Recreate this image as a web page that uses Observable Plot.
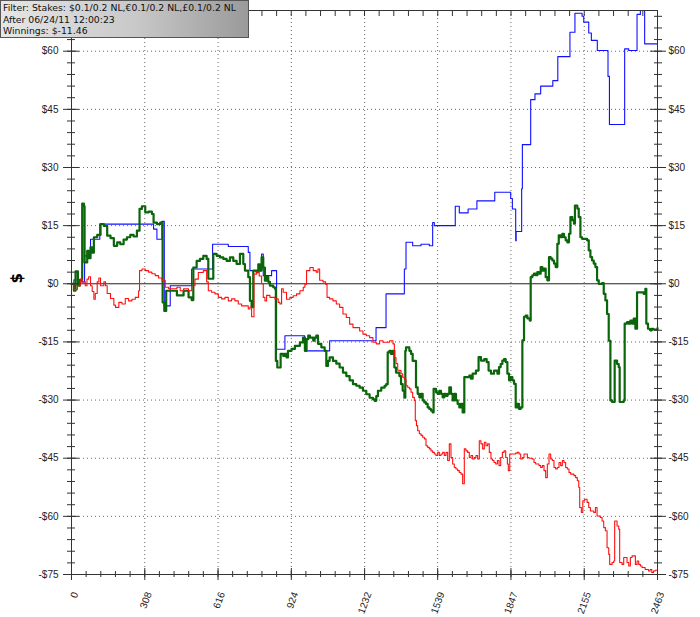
<!DOCTYPE html>
<html><head><meta charset="utf-8">
<script src="https://cdn.jsdelivr.net/npm/d3@7"></script>
<script src="https://cdn.jsdelivr.net/npm/@observablehq/plot@0.6"></script>
<style>
html,body{margin:0;padding:0;background:#fff;}
#wrap{position:relative;width:700px;height:617px;overflow:hidden;}
#wrap svg{position:absolute;left:0;top:0;}
#legend{position:absolute;left:0;top:0;width:245px;height:35px;border:1px solid #555;
  background:linear-gradient(to right,#e6e6e6 0%,#c8c8c8 55%,#9a9a9a 100%);
  font:9.3px "DejaVu Sans",Verdana,sans-serif;line-height:11.5px;color:#111;padding:1px 0 0 2px;white-space:nowrap;z-index:2;}
</style></head><body>
<div id="wrap"></div>
<script>
// Tick labels
const xTicks = [0, 308, 616, 924, 1232, 1539, 1847, 2155, 2463];
const yTicks = [-75, -60, -45, -30, -15, 0, 15, 30, 45, 60];
const legendLines = ["Filter: Stakes: $0.1/0.2 NL,\u20AC0.1/0.2 NL,\u00A30.1/0.2 NL", "After 06/24/11 12:00:23", "Winnings: $-11.46"];
const yLabel = "$";

// Series: [hand, cumulative $]
const greenData = [
[0,0],[10,-1.8],[17,3.2],[27,-0.5],[35,1],[45,20.7],[52,20],[55,5.5],[66,8.5],[73,6.6],[80,9.4],[87,8],[94,12],[108,12.6],[122,15.4],[136,14.9],[150,12.4],[164,11.8],[178,9.8],[192,10.7],[205,10.2],[219,11.4],[233,12],[247,12.6],[261,12.2],[275,13.7],[286,19.3],[296,20],[310,18.4],[324,18.6],[338,18],[345,15.8],[359,15.4],[373,15.8],[383,-4.8],[390,-7],[398,-1.8],[415,-1.8],[443,-3],[471,-1.8],[492,-3.5],[505,-4.2],[512,4.2],[526,5.9],[540,6.4],[554,7.2],[568,6.4],[575,1.3],[596,7.7],[610,7.2],[624,6.8],[638,6.4],[652,5.9],[666,6.8],[680,5.9],[694,5.1],[708,7.7],[722,5.1],[729,3.4],[743,1.7],[750,-4.4],[757,-6],[764,3.4],[778,3],[785,5],[792,3.4],[799,6.8],[806,4.2],[813,0.8],[820,1.7],[827,0.5],[834,-0.5],[848,-0.9],[855,-1.3],[859,-19.9],[865,-21.6],[879,-18.1],[890,-18.6],[897,-18.1],[904,-19],[910,-17.3],[925,-16.8],[939,-16],[960,-15.1],[973,-13.9],[981,-17.3],[988,-14.3],[995,-13.4],[1002,-13.9],[1016,-14.7],[1022,-13.9],[1029,-13.4],[1036,-15.5],[1050,-16.4],[1064,-17.3],[1071,-21.2],[1078,-19.9],[1085,-19],[1099,-19.9],[1113,-20.6],[1127,-21.6],[1141,-22.9],[1155,-23.8],[1169,-24.9],[1183,-25.9],[1197,-26.3],[1211,-26.8],[1225,-27.6],[1239,-28.5],[1253,-29.4],[1267,-29.8],[1274,-30.2],[1281,-29],[1288,-27.6],[1302,-26.8],[1316,-26.3],[1323,-25.9],[1329,-17.7],[1336,-17.3],[1343,-18.1],[1350,-17.3],[1357,-21.6],[1364,-22.9],[1378,-23.8],[1385,-25.9],[1392,-27.6],[1399,-29.4],[1403,-17.3],[1406,-16.4],[1420,-17.3],[1427,-18.1],[1434,-19.9],[1448,-26.7],[1455,-28.4],[1462,-29.3],[1469,-28.4],[1476,-30.1],[1483,-30.6],[1490,-31],[1497,-31.9],[1504,-32.3],[1511,-32.7],[1518,-33.2],[1522,-27.1],[1532,-28],[1539,-28.4],[1546,-27.6],[1553,-28.4],[1560,-29.3],[1567,-28.4],[1574,-28.9],[1581,-28.4],[1588,-26.7],[1595,-28.4],[1602,-30.1],[1609,-28.4],[1616,-30.1],[1623,-31],[1630,-31.9],[1637,-31],[1644,-33.2],[1651,-24.1],[1665,-24.1],[1672,-23.7],[1679,-24.5],[1686,-23.2],[1700,-22.4],[1711,-18.9],[1721,-19.8],[1735,-19.4],[1745,-20.2],[1753,-22.4],[1763,-23.2],[1776,-22.4],[1790,-23.2],[1797,-21.5],[1804,-20.7],[1811,-19.8],[1818,-19.4],[1825,-20.2],[1832,-23.2],[1839,-24.9],[1846,-24.1],[1853,-24.9],[1860,-25.8],[1867,-31.9],[1874,-31],[1881,-32.3],[1888,-31.9],[1895,-14.6],[1902,-8.5],[1909,-8.2],[1916,-8.9],[1926,-9.5],[1930,1.7],[1937,2.2],[1944,2.6],[1951,2.2],[1958,3],[1965,2.6],[1972,4.3],[1979,3.4],[1986,3.9],[1993,1.7],[2000,0.9],[2007,6.9],[2014,6.5],[2021,6],[2028,5.2],[2035,4.3],[2042,10.3],[2048,12.5],[2056,12],[2063,12.9],[2070,12],[2077,11.2],[2084,10.7],[2091,12.9],[2097,17.2],[2105,16.4],[2112,15.5],[2116,20.2],[2126,19.4],[2132,17.2],[2139,12],[2146,11.6],[2160,11.6],[2167,11.2],[2174,8.6],[2181,6.9],[2188,6],[2195,5.2],[2202,4.3],[2209,0.9],[2216,0],[2230,0.2],[2237,-2.6],[2244,-4.3],[2251,-7.8],[2258,-14.7],[2265,-30.1],[2272,-30.5],[2279,-30.5],[2283,-19.8],[2293,-20.7],[2300,-21.5],[2304,-30.5],[2314,-30.5],[2321,-30.1],[2325,-10.3],[2335,-9.9],[2342,-10.3],[2349,-9.5],[2356,-10.3],[2363,-9],[2370,-11.6],[2377,-2.2],[2391,-2.2],[2405,-2.6],[2412,-1.3],[2416,-10.3],[2423,-11.6],[2432,-12],[2439,-11.6],[2446,-11.8],[2463,-11.46]
];

const blueData = [
[0,0],[10,1],[17,3],[27,0],[35,0.5],[55,7.2],[80,11.5],[119,15.4],[345,14.1],[359,11.5],[380,16.1],[390,-5.7],[415,-0.5],[505,3.8],[593,10.2],[659,9.6],[743,8.1],[750,3.4],[799,7.7],[806,2.1],[841,3.4],[862,-16.9],[897,-13.4],[980,-17.3],[1085,-14.7],[1280,-11.3],[1322,-2.6],[1399,3.8],[1406,10.7],[1434,9.8],[1469,10.2],[1504,9.8],[1518,15.8],[1525,15],[1613,20],[1630,18.3],[1667,19.3],[1704,21.4],[1779,23.6],[1846,22],[1853,19.3],[1867,11.1],[1869,13.5],[1892,24.5],[1895,35.9],[1930,47.5],[1948,49],[1972,51],[2023,52.4],[2044,58.6],[2095,64.9],[2116,69.8],[2146,69],[2153,67.5],[2174,64.7],[2185,62.8],[2210,60.2],[2255,53.5],[2261,41.1],[2325,60.6],[2342,60.2],[2377,69.5],[2391,70.5],[2409,61.9],[2463,61.9]
];

const redData = [
[0,0],[10,-1.5],[25,-0.5],[37,1.2],[45,0.5],[58,-0.5],[65,1.2],[72,1.8],[80,-0.5],[87,-2],[94,-4],[100,-2.5],[108,0.5],[115,1.5],[122,-0.5],[136,0.5],[143,-0.5],[150,-2.5],[164,-3.8],[178,-5.5],[185,-6.1],[199,-4.8],[212,-5.2],[226,-3.8],[240,-4.4],[254,-4],[268,-3.5],[282,-1.8],[286,3.4],[296,3.8],[310,3.4],[324,3],[338,2.6],[352,2.1],[366,1.5],[380,0.9],[394,-0.9],[408,-1.3],[429,-1.3],[443,-0.9],[457,-1.8],[471,-1.3],[492,-1.8],[505,-0.5],[519,1.2],[533,2.9],[547,2.9],[554,3.4],[568,0.5],[575,-1.8],[589,-2.2],[603,-2.6],[617,-3.5],[631,-3.9],[645,-3.5],[659,-4.4],[673,-3.9],[687,-4.4],[701,-5.2],[715,-5.7],[729,-5.7],[743,-6.5],[750,-6],[757,-8.5],[767,2.5],[778,3],[789,2],[799,0],[806,-3.5],[813,-4.4],[820,-3],[834,-3.5],[855,-3.9],[869,-4.8],[876,-5.2],[883,-1.3],[890,-2.2],[904,-4],[918,-3.5],[932,-3.1],[946,-2.6],[960,-1.8],[974,-0.9],[981,-0.1],[988,3.4],[1002,4.2],[1016,3.4],[1029,3],[1036,3.8],[1043,0.9],[1057,0.5],[1068,-0.1],[1074,-3.5],[1085,-3.9],[1099,-4.4],[1113,-5.2],[1127,-6.1],[1141,-7.8],[1155,-8.7],[1169,-10.4],[1183,-11.3],[1197,-11.3],[1211,-12.2],[1225,-13],[1239,-13.4],[1253,-13.9],[1267,-15.1],[1281,-15.5],[1295,-14.7],[1309,-15.1],[1323,-15.1],[1337,-14.7],[1351,-15.5],[1357,-19],[1364,-20.6],[1371,-22.3],[1378,-22.4],[1385,-23.2],[1392,-24.1],[1399,-24.6],[1406,-26.3],[1413,-26.7],[1420,-27.1],[1427,-28],[1434,-29.3],[1441,-30.1],[1445,-35.3],[1450,-36.6],[1455,-37.9],[1462,-38.7],[1469,-39.1],[1476,-39.6],[1483,-40],[1490,-41.8],[1497,-42.2],[1504,-42.6],[1511,-43.1],[1518,-43.5],[1525,-43.9],[1532,-44.3],[1539,-43.5],[1546,-44.3],[1553,-43.9],[1560,-43.5],[1567,-44.3],[1574,-43.5],[1581,-45.6],[1588,-41.3],[1595,-44.8],[1602,-46.5],[1609,-47.4],[1616,-47.8],[1623,-48.2],[1630,-48.7],[1637,-49.1],[1644,-51.6],[1651,-42.6],[1658,-43.1],[1665,-43.5],[1672,-44.8],[1679,-44.3],[1686,-45.2],[1693,-44.8],[1700,-44.3],[1707,-45.2],[1714,-40.5],[1721,-41.3],[1728,-42.6],[1735,-40.9],[1742,-41.8],[1749,-41.3],[1756,-43.5],[1763,-45.2],[1770,-45.6],[1776,-46.1],[1783,-46.5],[1790,-45.6],[1797,-46.9],[1804,-44.8],[1811,-43.5],[1818,-43.1],[1825,-44.8],[1832,-46.5],[1836,-48.2],[1842,-43.9],[1853,-43.9],[1867,-43.7],[1874,-43.5],[1881,-43.9],[1888,-45.2],[1895,-44.8],[1902,-43.9],[1916,-44.8],[1923,-45],[1937,-45.2],[1944,-46.1],[1951,-46.5],[1965,-46.9],[1972,-47.4],[1979,-46.9],[1986,-48.2],[1993,-50],[2000,-46.5],[2007,-43.9],[2014,-45.2],[2021,-45.6],[2028,-47.4],[2035,-47.8],[2042,-47.4],[2049,-46.1],[2056,-46.9],[2063,-45.6],[2070,-46.1],[2077,-47.4],[2084,-47.8],[2091,-48.7],[2098,-49.1],[2112,-49.5],[2119,-50],[2126,-50.8],[2132,-52.5],[2136,-57.7],[2143,-59],[2149,-56],[2157,-55.6],[2167,-56.4],[2174,-57.7],[2181,-58.6],[2195,-59],[2202,-57.7],[2209,-59.9],[2223,-60.3],[2230,-61.2],[2237,-62.9],[2244,-63.7],[2251,-68.1],[2258,-69.8],[2262,-72.4],[2272,-71.9],[2279,-71.5],[2283,-61.2],[2293,-62.5],[2300,-63.3],[2304,-71.9],[2314,-72.4],[2321,-70.6],[2335,-71.9],[2342,-72.8],[2349,-70.6],[2356,-70.2],[2363,-70.2],[2370,-72.4],[2377,-71.5],[2384,-72.4],[2391,-72.8],[2398,-73.2],[2411,-73.7],[2425,-74.1],[2432,-73.7],[2439,-74.5],[2446,-74.1],[2453,-73.9],[2463,-73.9]
];

const toRows = arr => arr.map(([h, v]) => ({h, v}));
const xMinor = d3.range(41).map(i => i * 2463 / 40);
const yMinor = d3.range(-75, 70, 3);
const fmt = v => (v < 0 ? "-$" : "$") + Math.abs(v);
const blank = () => "";
const axisStroke = "#333";
const gridStyle = {stroke: "#666", strokeOpacity: 1, strokeDasharray: "1,3"};

const chart = Plot.plot({
  width: 700, height: 617,
  marginLeft: 71, marginRight: 43, marginTop: 10, marginBottom: 43,
  style: {fontFamily: '"Liberation Sans", Arial, sans-serif', fontSize: "10px", color: "#222", background: "#fff", overflow: "visible"},
  x: {domain: [0, 2463], label: null},
  y: {domain: [-75, 70.5], label: null},
  marks: [
    Plot.gridX({ticks: xTicks, ...gridStyle}),
    Plot.gridY({ticks: yTicks.filter(d => d !== 0), ...gridStyle}),
    Plot.ruleY([0], {stroke: "#222", strokeWidth: 1}),
    Plot.line(toRows(blueData), {x: "h", y: "v", curve: "step-after", stroke: "#1010ff", strokeWidth: 1.1}),
    Plot.line(toRows(greenData), {x: "h", y: "v", curve: "step-after", stroke: "#0b650b", strokeWidth: 2.2}),
    Plot.line(toRows(redData), {x: "h", y: "v", curve: "step-after", stroke: "#ff1010", strokeWidth: 1.1}),
    Plot.frame({stroke: axisStroke}),
    Plot.axisY({anchor: "left", ticks: yTicks, tickSize: 16, dx: 8, tickPadding: 5, tickFormat: fmt, stroke: axisStroke, label: null}),
    Plot.axisY({anchor: "left", ticks: yMinor, tickSize: 8, dx: 4, tickFormat: blank, stroke: axisStroke, label: null}),
    Plot.axisY({anchor: "right", ticks: yTicks, tickSize: 16, dx: -8, tickPadding: 3, tickFormat: fmt, stroke: axisStroke, label: null}),
    Plot.axisY({anchor: "right", ticks: yMinor, tickSize: 8, dx: -4, tickFormat: blank, stroke: axisStroke, label: null}),
    Plot.axisX({anchor: "bottom", ticks: xTicks, tickSize: 12, dy: -6, tickFormat: blank, stroke: axisStroke, label: null}),
    Plot.axisX({anchor: "bottom", ticks: xTicks, tickSize: 0, dx: 4, tickPadding: 18, tickRotate: -70, tickFormat: d => String(d), label: null}),
    Plot.axisX({anchor: "bottom", ticks: xMinor, tickSize: 6, dy: -3, tickFormat: blank, stroke: axisStroke, label: null}),
    Plot.axisX({anchor: "top", ticks: xMinor, tickSize: 5, dy: 5, tickFormat: blank, stroke: axisStroke, label: null}),
    Plot.text([yLabel], {frameAnchor: "left", dx: -54, dy: -9, rotate: -90, text: d => d, fontSize: 15, fontWeight: "bold", fill: "#000", fontFamily: '"DejaVu Sans", Verdana, sans-serif'})
  ]
});

const wrap = document.getElementById("wrap");
wrap.appendChild(chart);
const legend = document.createElement("div");
legend.id = "legend";
legend.innerHTML = legendLines.map(t => `<div>${t}</div>`).join("");
wrap.appendChild(legend);
</script>
</body></html>
